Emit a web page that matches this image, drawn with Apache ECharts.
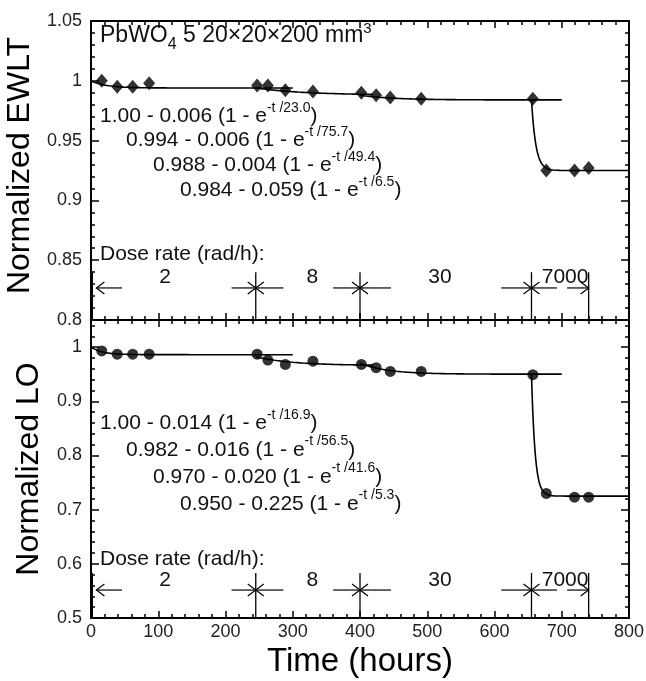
<!DOCTYPE html>
<html>
<head>
<meta charset="utf-8">
<script src="https://cdn.jsdelivr.net/npm/echarts@6/dist/echarts.min.js"></script>
<style>
  html, body { margin: 0; padding: 0; background: #fff; }
  #chart { width: 646px; height: 681px; }
</style>
</head>
<body>
<div id="chart"></div>
<script>
// Irradiation time of each measurement (hours)
const measTime = [16, 39, 62, 86.5, 247, 263, 289, 330, 402, 424, 445, 491, 657, 677, 719, 740];
// Normalized emission-weighted longitudinal transmittance
const ewltValue = [1.000, 0.995, 0.995, 0.998, 0.996, 0.996, 0.992, 0.991, 0.990, 0.988, 0.986, 0.985, 0.985, 0.925, 0.925, 0.927];
// Normalized light output
const loValue = [0.993, 0.987, 0.987, 0.987, 0.987, 0.976, 0.968, 0.974, 0.968, 0.962, 0.955, 0.955, 0.949, 0.730, 0.723, 0.723];

// Exponential fits  A - B (1 - exp(-t/tau)), t counted from the start of each dose-rate step
const ewltFitA = [1.00, 0.994, 0.988, 0.984];
const ewltFitB = [0.006, 0.006, 0.004, 0.059];
const ewltFitTau = [23.0, 75.7, 49.4, 6.5];
const loFitA = [1.00, 0.982, 0.970, 0.950];
const loFitB = [0.014, 0.016, 0.020, 0.225];
const loFitTau = [16.9, 56.5, 41.6, 5.3];
const fitStart = [0, 245, 400, 655];
const fitEnd = [300, 420, 700, 800];

// Dose-rate steps
const doseBoundaries = [2, 245, 400, 655, 740];
const doseRates = ['2', '8', '30', '7000'];
const doseLabelTime = [110, 329, 519, 705];
const doseArrows = [[46, 8], [209, 245], [286, 245], [360, 400], [446, 400], [610, 655], [693, 655], [708, 740]];

// Axis ticks
const timeTicks = { min: 0, max: 800, interval: 100 };
const ewltTicks = { min: 0.8, max: 1.05, interval: 0.05 };
const loTicks = { min: 0.5, max: 1.05, interval: 0.1 };

const FONT = "'Liberation Sans', Arial, Helvetica, sans-serif";

function fitCurve(a, b, tau, t0, t1) {
  const pts = [];
  const n = 400;
  for (let i = 0; i <= n; i++) {
    const t = t0 + (t1 - t0) * i / n;
    pts.push([t, a - b * (1 - Math.exp(-(t - t0) / tau))]);
  }
  return pts;
}

const chart = echarts.init(document.getElementById('chart'), null, { renderer: 'canvas' });

function xAxisDef(gridIndex, position, withLabels) {
  return {
    type: 'value', gridIndex, position,
    min: timeTicks.min, max: timeTicks.max, interval: timeTicks.interval,
    axisLine: { show: true, onZero: false, lineStyle: { color: '#000', width: 2 } },
    axisTick: { show: true, inside: true, length: 7, lineStyle: { color: '#000', width: 1.5 } },
    minorTick: { show: true, splitNumber: 5, length: 4, lineStyle: { color: '#000', width: 1.5 } },
    splitLine: { show: false },
    axisLabel: { show: withLabels, color: '#222', fontSize: 18, fontFamily: FONT, margin: 5 },
    name: withLabels ? 'Time (hours)' : '',
    nameLocation: 'middle', nameGap: 27,
    nameTextStyle: { color: '#000', fontSize: 33, fontFamily: FONT }
  };
}

function yAxisDef(gridIndex, position, ticks, withLabels, name, hideMax, namePad) {
  return {
    type: 'value', gridIndex, position,
    min: ticks.min, max: ticks.max, interval: ticks.interval,
    axisLine: { show: true, onZero: false, lineStyle: { color: '#000', width: 2 } },
    axisTick: { show: true, inside: true, length: 8, lineStyle: { color: '#000', width: 1.5 } },
    minorTick: { show: true, splitNumber: 5, length: 4, lineStyle: { color: '#000', width: 1.5 } },
    splitLine: { show: false },
    axisLabel: { show: withLabels, color: '#222', fontSize: 18, fontFamily: FONT, margin: 9,
      showMaxLabel: !hideMax, showMinLabel: true },
    name: withLabels ? name : '',
    nameLocation: 'middle', nameGap: 46,
    nameTextStyle: { color: '#000', fontSize: 32, fontFamily: FONT, padding: namePad || 0 }
  };
}

// Vertical boundary lines, arrows and rate labels for one panel
function doseSeries(xIdx, yIdx, yMin, yTop, yArrow, yLabel) {
  return [
    {
      type: 'custom', xAxisIndex: xIdx, yAxisIndex: yIdx, silent: true,
      data: doseBoundaries.map(t => [t, yTop]),
      renderItem(params, api) {
        const top = api.coord([api.value(0), api.value(1)]);
        const bot = api.coord([api.value(0), yMin]);
        return { type: 'line', shape: { x1: top[0], y1: top[1], x2: bot[0], y2: bot[1] },
          style: { stroke: '#000', lineWidth: 1.3 } };
      }
    },
    {
      type: 'custom', xAxisIndex: xIdx, yAxisIndex: yIdx, silent: true,
      data: doseArrows.map(a => [a[0], a[1], yArrow]),
      renderItem(params, api) {
        const tail = api.coord([api.value(0), api.value(2)]);
        const tip = api.coord([api.value(1), api.value(2)]);
        const dir = Math.sign(tip[0] - tail[0]);
        const h = 8, w = 6;
        return {
          type: 'group', children: [
            { type: 'line', shape: { x1: tail[0], y1: tail[1], x2: tip[0], y2: tip[1] },
              style: { stroke: '#000', lineWidth: 1.2 } },
            { type: 'polyline', shape: { points: [[tip[0] - dir * h, tip[1] - w], [tip[0], tip[1]], [tip[0] - dir * h, tip[1] + w]] },
              style: { stroke: '#000', fill: null, lineWidth: 1.2 } }
          ]
        };
      }
    },
    {
      type: 'custom', xAxisIndex: xIdx, yAxisIndex: yIdx, silent: true,
      data: doseLabelTime.map((t, i) => [t, yLabel, i]),
      renderItem(params, api) {
        const p = api.coord([api.value(0), api.value(1)]);
        return { type: 'text', x: p[0], y: p[1],
          style: { text: doseRates[api.value(2)], fill: '#111', font: '21px ' + FONT, align: 'center', verticalAlign: 'middle' } };
      }
    }
  ];
}

function fitSeries(xIdx, yIdx, A, B, T) {
  return A.map((a, i) => ({
    type: 'line', xAxisIndex: xIdx, yAxisIndex: yIdx, showSymbol: false, silent: true,
    data: fitCurve(a, B[i], T[i], fitStart[i], fitEnd[i]),
    lineStyle: { color: '#000', width: 1.6 }, z: 3
  }));
}

// n: normal text, s: superscript, h: title text, b: subscript, t: title superscript
const richMain = {
  n: { fontSize: 21, fontFamily: FONT, fill: '#111', lineHeight: 33 },
  s: { fontSize: 14, fontFamily: FONT, fill: '#111', lineHeight: 12, height: 16, verticalAlign: 'top' },
  h: { fontSize: 23, fontFamily: FONT, fill: '#111', lineHeight: 33 },
  b: { fontSize: 16, fontFamily: FONT, fill: '#111', lineHeight: 12, height: 16, verticalAlign: 'bottom' },
  t: { fontSize: 15, fontFamily: FONT, fill: '#111', lineHeight: 12, height: 18, verticalAlign: 'top' }
};

function fitLabel(a, b, tau, aDigits) {
  return '{n|' + a.toFixed(aDigits) + ' - ' + b.toFixed(3) + ' (1 - e}{s|-t /' + tau.toFixed(1) + '}{n|)}';
}

function textBlock(text, x, y) {
  return { type: 'text', x, y, silent: true,
    style: { text, rich: richMain, fill: '#111', font: '21px ' + FONT, align: 'left', verticalAlign: 'middle' } };
}

const fitIndent = [100, 126, 153, 180];
const ewltFitRows = [116.5, 140.5, 165.5, 190.5];
const loFitRows = [423.5, 450, 477, 504];

const graphics = [];
ewltFitA.forEach((a, i) => graphics.push(textBlock(fitLabel(a, ewltFitB[i], ewltFitTau[i], i === 0 ? 2 : 3), fitIndent[i], ewltFitRows[i])));
loFitA.forEach((a, i) => graphics.push(textBlock(fitLabel(a, loFitB[i], loFitTau[i], i === 0 ? 2 : 3), fitIndent[i], loFitRows[i])));
graphics.push(textBlock('{h|PbWO}{b|4}{h| 5 20×20×200 mm}{t|3}', 100, 36));
graphics.push(textBlock('{n|Dose rate (rad/h):}', 100, 254));
graphics.push(textBlock('{n|Dose rate (rad/h):}', 100, 559));

const option = {
  animation: false,
  backgroundColor: '#fff',
  textStyle: { fontFamily: FONT },
  grid: [
    { left: 91, top: 21, width: 538, height: 299, containLabel: false, outerBoundsMode: 'none' },
    { left: 91, top: 320, width: 538, height: 298, containLabel: false, outerBoundsMode: 'none' }
  ],
  xAxis: [
    xAxisDef(0, 'bottom', false),
    xAxisDef(0, 'top', false),
    xAxisDef(1, 'bottom', true),
    xAxisDef(1, 'top', false)
  ],
  yAxis: [
    yAxisDef(0, 'left', ewltTicks, true, 'Normalized EWLT', false, [0, 0, 0, 10]),
    yAxisDef(0, 'right', ewltTicks, false, '', false),
    yAxisDef(1, 'left', loTicks, true, 'Normalized LO', true),
    yAxisDef(1, 'right', loTicks, false, '', true)
  ],
  series: [
    ...fitSeries(0, 0, ewltFitA, ewltFitB, ewltFitTau),
    ...fitSeries(2, 2, loFitA, loFitB, loFitTau),
    {
      type: 'scatter', xAxisIndex: 0, yAxisIndex: 0, symbol: 'diamond', symbolSize: [12, 14],
      itemStyle: { color: '#000' }, z: 5,
      data: measTime.map((t, i) => [t, ewltValue[i]])
    },
    {
      type: 'scatter', xAxisIndex: 2, yAxisIndex: 2, symbol: 'circle', symbolSize: 11,
      itemStyle: { color: '#000' }, z: 5,
      data: measTime.map((t, i) => [t, loValue[i]])
    },
    ...doseSeries(0, 0, ewltTicks.min, 0.840, 0.8268, 0.8356),
    ...doseSeries(2, 2, loTicks.min, 0.583, 0.5516, 0.569)
  ],
  graphic: graphics
};

chart.setOption(option);
</script>
</body>
</html>
